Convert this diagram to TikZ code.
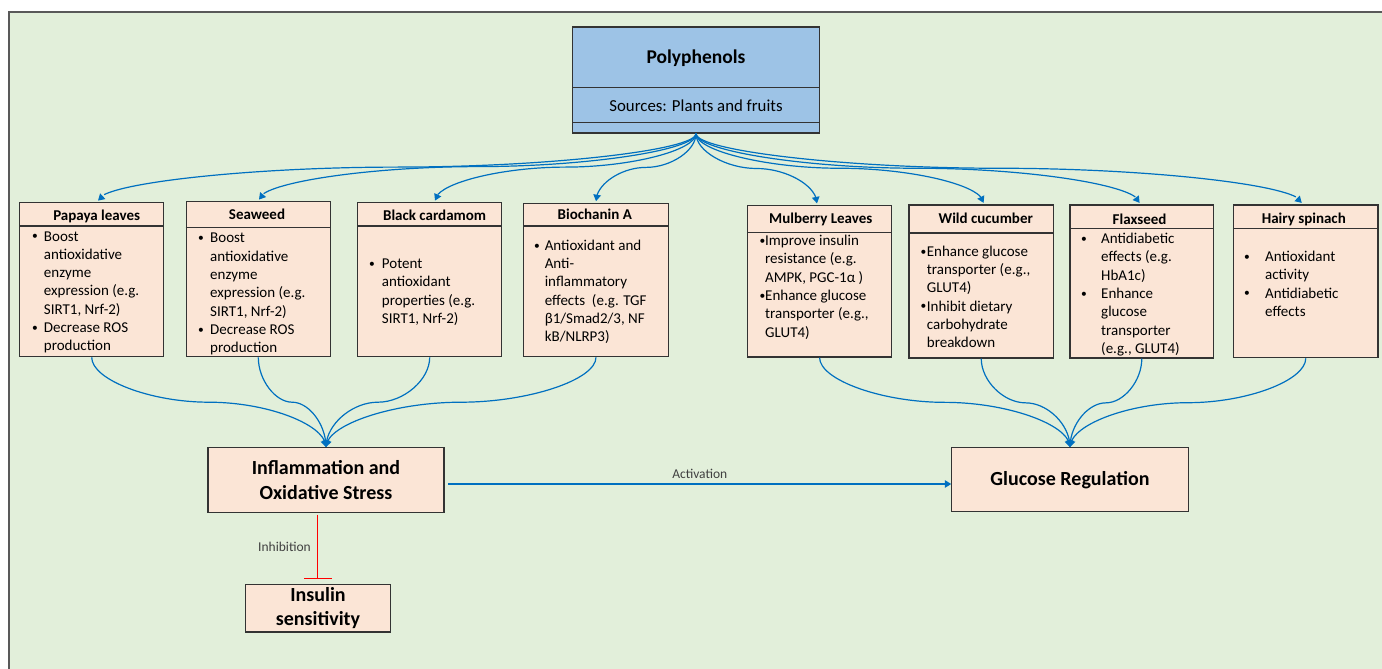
\documentclass[tikz,border=0pt]{standalone}
\usepackage{fontspec}
\setmainfont{Carlito}
\usetikzlibrary{arrows.meta,bending,calc}
\definecolor{panelgreen}{HTML}{E2EFDA}
\definecolor{peach}{HTML}{FBE5D6}
\definecolor{polyblue}{HTML}{9DC3E6}
\definecolor{linkblue}{HTML}{0070C0}
\definecolor{edgegray}{HTML}{333333}
\definecolor{framegray}{HTML}{595959}
\definecolor{labelgray}{HTML}{404040}
\definecolor{inhibred}{HTML}{FF0000}

% small list bullet
\newcommand\bul{\raisebox{1.2pt}{\fontsize{11.5}{11.5}\selectfont\textbullet}}
% bullet list: first column holds the bullet, second the text
\newcommand\plist[2]{\begin{tabular}[t]{@{}p{#1}@{}l@{}}#2\end{tabular}}

\begin{document}
\begin{tikzpicture}[x=1pt,y=-1pt,
  plantbox/.style={draw=edgegray, fill=peach, line width=1.2pt, rectangle, inner sep=0pt},
  sepline/.style={draw=edgegray, line width=1.2pt},
  hdr/.style={font=\fontsize{15}{18}\selectfont\bfseries, inner sep=0pt},
  body/.style={font=\fontsize{15}{18.3}\selectfont, anchor=base west, inner sep=0pt},
  bigbox/.style={plantbox, font=\fontsize{20}{24.4}\selectfont\bfseries, align=center},
  lbl/.style={font=\fontsize{13.5}{16}\selectfont, text=labelgray, inner sep=0pt},
  tip/.style={-{Triangle[width=7.5pt,length=6.5pt]}},
  straightlink/.style={draw=linkblue, line width=1.2pt, tip},
  conn/.style={draw=linkblue, line width=1.2pt, tip,
    to path={let \p1=(\tikztostart), \p2=(\tikztotarget) in
      .. controls (\x1,{0.75*\y1+0.25*\y2}) and ({0.75*\x1+0.25*\x2},{0.5*\y1+0.5*\y2})
      .. ({0.5*\x1+0.5*\x2},{0.5*\y1+0.5*\y2})
      .. controls ({0.25*\x1+0.75*\x2},{0.5*\y1+0.5*\y2}) and (\x2,{0.25*\y1+0.75*\y2})
      .. (\tikztotarget)}},
  inhib/.style={draw=inhibred, line width=1.4pt, -{Bar[width=28pt]}}
]
\useasboundingbox (0,0) rectangle (1382,669);
\fill[white] (0,0) rectangle (1382,669);
\fill[panelgreen] (9,12) rectangle (1382,669);
\draw[framegray, line width=1.2pt] (9,669) -- (9,12) -- (1382,12);

% source box
\node[plantbox, fill=polyblue, minimum width=246.5pt, minimum height=106pt] (poly) at (696,80) {};
\draw[sepline] (poly.west |- 0,87.3) -- (poly.east |- 0,87.3);
\draw[sepline] (poly.west |- 0,122.7) -- (poly.east |- 0,122.7);
\node[inner sep=0pt, font=\fontsize{19.5}{22}\selectfont\bfseries] (polyt) at (696,58.3) {Polyphenols};
\node[inner sep=0pt, font=\fontsize{16.8}{20}\selectfont] (polys) at (696,106) {Sources: Plants and fruits};

% plant boxes, left group
\node[plantbox, minimum width=144.2pt, minimum height=154pt] (pap) at (91.7,279.7) {};
\draw[sepline] (pap.west |- 0,226) -- (pap.east |- 0,226);
\node[hdr] (paph) at (96.7,216) {Papaya leaves};
\node[body] (papb) at (32,241) {\plist{11.75pt}{\bul & Boost\\ & antioxidative\\ & enzyme\\ & expression (e.g.\\ & SIRT1, Nrf-2)\\ \bul & Decrease ROS\\ & production}};

\node[plantbox, minimum width=144.2pt, minimum height=155pt] (sea) at (258.3,279.2) {};
\draw[sepline] (sea.west |- 0,227.7) -- (sea.east |- 0,227.7);
\node[hdr] (seah) at (257,214) {Seaweed};
\node[body] (seab) at (198,242.8) {\plist{12pt}{\bul & Boost\\ & antioxidative\\ & enzyme\\ & expression (e.g.\\ & SIRT1, Nrf-2)\\ \bul & Decrease ROS\\ & production}};

\node[plantbox, minimum width=144.2pt, minimum height=154pt] (car) at (429.7,279.7) {};
\draw[sepline] (car.west |- 0,226) -- (car.east |- 0,226);
\node[hdr] (carh) at (434.6,215) {Black cardamom};
\node[body] (carb) at (369,268.5) {\plist{12.7pt}{\bul & Potent\\ & antioxidant\\ & properties (e.g.\\ & SIRT1, Nrf-2)}};

\node[plantbox, minimum width=144.6pt, minimum height=153.4pt] (bio) at (596,280) {};
\draw[sepline] (bio.west |- 0,226) -- (bio.east |- 0,226);
\node[hdr] (bioh) at (594.8,214) {Biochanin A};
\node[body] (biob) at (534,250.2) {\plist{10.6pt}{\bul & Antioxidant and\\ & Anti-\\ & inflammatory\\ & effects\ \ (e.g. TGF\\ & β1/Smad2/3, NF\\ & kB/NLRP3)}};

% plant boxes, right group
\node[plantbox, minimum width=144.2pt, minimum height=151.5pt] (mul) at (819.6,281.25) {};
\draw[sepline] (mul.west |- 0,232.7) -- (mul.east |- 0,232.7);
\node[hdr] (mulh) at (820.8,219) {Mulberry Leaves};
\node[body] (mulb) at (759.5,245.5) {\plist{5.5pt}{\bul & Improve insulin\\ & resistance (e.g.\\ & AMPK, PGC-1α )\\ \bul & Enhance glucose\\ & transporter (e.g.,\\ & GLUT4)}};

\node[plantbox, minimum width=144.5pt, minimum height=153pt] (wil) at (981.25,281.5) {};
\draw[sepline] (wil.west |- 0,233) -- (wil.east |- 0,233);
\node[hdr] (wilh) at (985.8,218) {Wild cucumber};
\node[body] (wilb) at (920.5,256.2) {\plist{6.2pt}{\bul & Enhance glucose\\ & transporter (e.g.,\\ & GLUT4)\\ \bul & Inhibit dietary\\ & carbohydrate\\ & breakdown}};

\node[plantbox, minimum width=143.6pt, minimum height=153pt] (fla) at (1141.8,281.5) {};
\draw[sepline] (fla.west |- 0,228.3) -- (fla.east |- 0,228.3);
\node[hdr] (flah) at (1139.6,219) {Flaxseed};
\node[body] (flab) at (1081,243.5) {\plist{20pt}{\bul & Antidiabetic\\ & effects (e.g.\\ & HbA1c)\\ \bul & Enhance\\ & glucose\\ & transporter\\ & (e.g., GLUT4)}};

\node[plantbox, minimum width=144.5pt, minimum height=152.7pt] (hai) at (1305.75,281.35) {};
\draw[sepline] (hai.west |- 0,228.3) -- (hai.east |- 0,228.3);
\node[hdr] (haih) at (1303.8,219) {Hairy spinach};
\node[body] (haib) at (1244,261.5) {\plist{21pt}{\bul & Antioxidant\\ & activity\\ \bul & Antidiabetic\\ & effects}};

% outcome boxes
\node[bigbox, minimum width=236pt, minimum height=64.6pt] (infl) at (326,480) {Inflammation and\\Oxidative Stress};
\node[bigbox, minimum width=236.3pt, minimum height=64pt] (gluc) at (1070,479.7) {Glucose Regulation};
\node[bigbox, minimum width=145.4pt, minimum height=47.3pt] (ins) at (318,608.3) {Insulin\\sensitivity};

% inhibition (stroked before any coloured label text)
\coordinate (inhA) at ([shift={(-8.5,1.7)}]infl.south);
\coordinate (inhB) at ([shift={(-0.5,-4.7)}]ins.north);
\draw[inhib] (inhA) -- (inhB);

% fan-out from the source
\draw[conn] (poly.south) to ([shift={(6.3,-1.5)}]pap.north);
\draw[conn] (poly.south) to ([shift={(0.7,-1.5)}]sea.north);
\draw[conn] (poly.south) to ([shift={(5.3,-1.5)}]car.north);
\draw[conn] (poly.south) to ([shift={(0,-1.5)}]bio.north);
\draw[conn] (poly.south) to ([shift={(-2.6,-1.5)}]mul.north);
\draw[conn] (poly.south) to ([shift={(2.35,-1.5)}]wil.north);
\draw[conn] (poly.south) to ([shift={(-2.2,-1.5)}]fla.north);
\draw[conn] (poly.south) to ([shift={(-4,-1.5)}]hai.north);

% fan-in to the outcomes
\draw[conn] (pap.south) to (infl.north);
\draw[conn] (sea.south) to (infl.north);
\draw[conn] (car.south) to (infl.north);
\draw[conn] (bio.south) to (infl.north);
\draw[conn] (mul.south) to (gluc.north);
\draw[conn] (wil.south) to (gluc.north);
\draw[conn] (fla.south) to (gluc.north);
\draw[conn] (hai.south) to (gluc.north);

% activation
\coordinate (actA) at ([shift={(3.7,4)}]infl.east);
\coordinate (actB) at ([shift={(0,4.3)}]gluc.west);
\draw[straightlink] (actA) -- (actB);

% connector labels
\node[lbl, above=5.5pt] (act) at ($(actA)!0.5!(actB)$) {Activation};
\node[lbl, left=6.5pt] (inh) at ($(inhA)!0.5!(inhB)$) {Inhibition};
\end{tikzpicture}
\end{document}
